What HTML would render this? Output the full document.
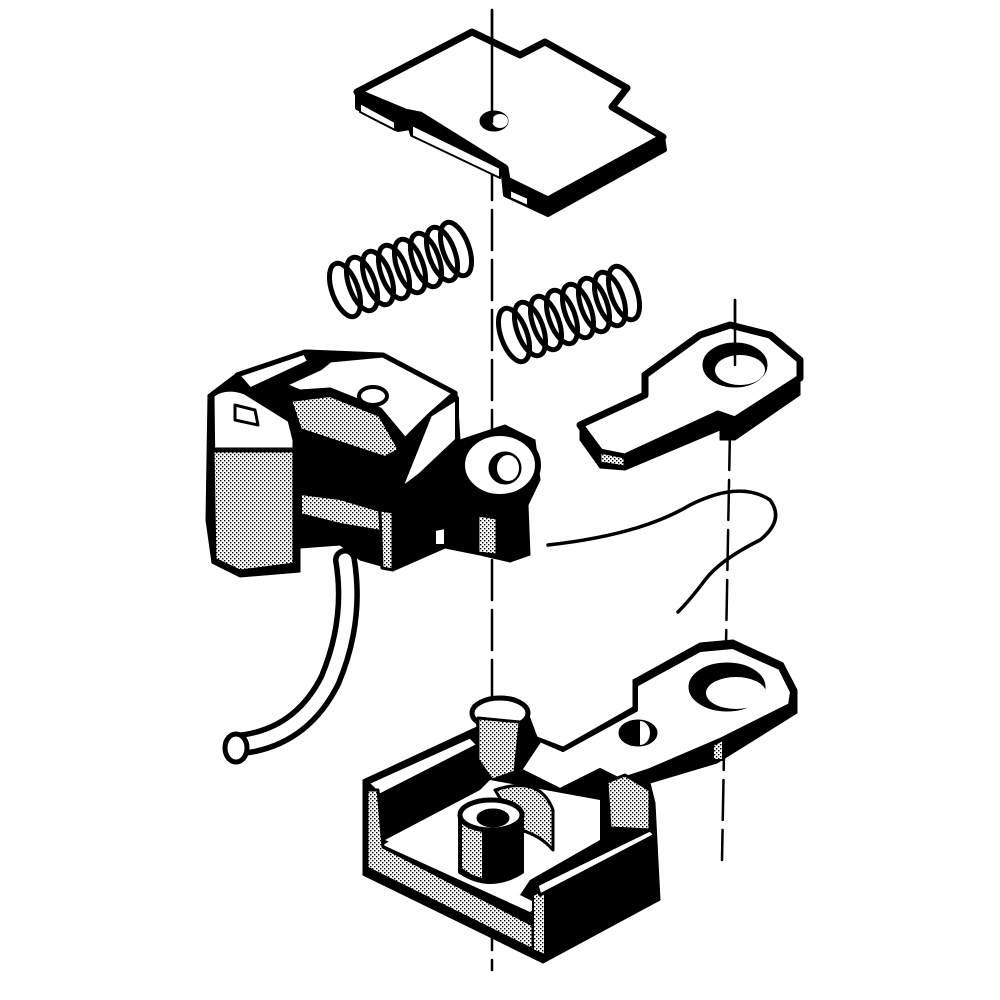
<!DOCTYPE html>
<html><head><meta charset="utf-8"><style>html,body{margin:0;padding:0;background:#fff}svg{display:block}</style></head>
<body>
<svg width="1000" height="1000" viewBox="0 0 1000 1000" xmlns="http://www.w3.org/2000/svg">
<defs>
<pattern id="st" width="4" height="4" patternUnits="userSpaceOnUse"><rect width="4" height="4" fill="#fff"/><rect x="0" y="0" width="1.4" height="1.4" fill="#000"/><rect x="2" y="2" width="1.4" height="1.4" fill="#000"/></pattern>
</defs>
<g stroke="#000" stroke-linejoin="round" stroke-linecap="round">
<!-- center lines -->
<line x1="492" y1="10" x2="492" y2="970" stroke-width="2.5" stroke-dasharray="40 10"/>
<line x1="735" y1="300" x2="735" y2="330" stroke-width="2.5"/>
<line x1="730" y1="430" x2="722" y2="860" stroke-width="2.5" stroke-dasharray="40 10"/>

<!-- top plate -->
<polygon points="357,92 357,108 398,130 410,128 412,135 503,175 505,195 548,215 665,150 663,137 548,200 507,180 503,160 420,115 405,112" fill="#000" stroke-width="4"/>
<polygon points="360,103 395,122 395,130 360,112" fill="#fff" stroke-width="2"/>
<polygon points="412,125 500,168 500,178 412,136" fill="#fff" stroke-width="2"/>
<polygon points="510,190 528,198 528,206 510,198" fill="#fff" stroke-width="2"/>
<polygon points="357,92 472,32 520,55 545,42 627,88 612,107 663,137 548,200 507,180 505,168 420,115 405,112" fill="#fff" stroke-width="7"/>
<ellipse cx="494" cy="121" rx="14" ry="10" fill="#000"/>
<ellipse cx="500" cy="121" rx="8" ry="7" fill="#fff" stroke="none"/>
<line x1="492" y1="10" x2="492" y2="122" stroke-width="2.5"/>

<!-- springs -->
<g fill="none" stroke-width="5">
<ellipse cx="345" cy="290" rx="13" ry="28" transform="rotate(-20 345 290)"/>
<ellipse cx="362" cy="284" rx="13" ry="28" transform="rotate(-20 362 284)"/>
<ellipse cx="378" cy="278" rx="13" ry="28" transform="rotate(-20 378 278)"/>
<ellipse cx="394" cy="272" rx="13" ry="28" transform="rotate(-20 394 272)"/>
<ellipse cx="410" cy="266" rx="13" ry="28" transform="rotate(-20 410 266)"/>
<ellipse cx="426" cy="260" rx="13" ry="28" transform="rotate(-20 426 260)"/>
<ellipse cx="442" cy="254" rx="13" ry="28" transform="rotate(-20 442 254)"/>
<ellipse cx="456" cy="249" rx="13" ry="28" transform="rotate(-20 456 249)"/>
<ellipse cx="514" cy="335" rx="13" ry="28" transform="rotate(-20 514 335)"/>
<ellipse cx="530" cy="329" rx="13" ry="28" transform="rotate(-20 530 329)"/>
<ellipse cx="546" cy="323" rx="13" ry="28" transform="rotate(-20 546 323)"/>
<ellipse cx="562" cy="317" rx="13" ry="28" transform="rotate(-20 562 317)"/>
<ellipse cx="578" cy="311" rx="13" ry="28" transform="rotate(-20 578 311)"/>
<ellipse cx="594" cy="305" rx="13" ry="28" transform="rotate(-20 594 305)"/>
<ellipse cx="610" cy="299" rx="13" ry="28" transform="rotate(-20 610 299)"/>
<ellipse cx="624" cy="293" rx="13" ry="28" transform="rotate(-20 624 293)"/>
</g>

<!-- small arm -->
<polygon points="580,425 580,440 600,468 625,470 720,430 720,440 735,440 800,395 800,375 735,420 720,415 625,455 600,452" fill="#000"/>
<polygon points="580,425 645,395 645,375 700,335 730,325 770,335 800,360 800,378 735,420 718,414 625,457 600,452" fill="#fff" stroke-width="7"/>
<polygon points="600,452 625,457 625,467 600,463" fill="url(#st)" stroke-width="3"/>
<ellipse cx="735" cy="365" rx="32" ry="22" fill="#000"/>
<ellipse cx="740" cy="370" rx="25" ry="15" fill="#fff" stroke="none"/>
<line x1="735" y1="300" x2="735" y2="365" stroke-width="2.5"/>

<!-- coupler head -->
<polygon points="208,395 237,373 307,350 383,353 457,393 460,440 505,425 535,440 540,480 528,505 530,555 510,562 480,555 445,548 395,570 360,560 340,545 300,548 300,572 240,577 212,563 206,520" fill="#000"/>
<path d="M212,395 Q225,385 245,392 L290,420 L295,440 L295,565 L240,572 L214,560 Z" fill="#fff" stroke-width="5"/>
<polygon points="212,450 295,450 295,565 240,572 214,560" fill="url(#st)" stroke-width="5"/>
<polygon points="237,375 305,352 310,362 250,390" fill="#fff" stroke-width="5"/>
<polygon points="283,385 320,368 330,360 383,355 455,393 430,415 405,440 380,410 330,390 300,392" fill="#fff" stroke-width="5"/>
<polygon points="290,400 330,395 380,415 400,450 385,458 300,430" fill="url(#st)" stroke-width="4"/>
<polygon points="235,405 255,410 258,425 235,420" fill="#fff" stroke-width="3"/>
<polygon points="300,493 340,498 380,510 382,532 340,525 300,515" fill="url(#st)" stroke-width="4"/>
<polygon points="380,510 393,512 393,570 382,568" fill="url(#st)" stroke-width="3"/>
<ellipse cx="373" cy="396" rx="14" ry="9" fill="#fff" stroke-width="4"/>
<polygon points="430,415 457,398 457,440 420,475 400,490" fill="#fff" stroke-width="4"/>
<ellipse cx="500" cy="465" rx="38" ry="32" fill="#fff" stroke-width="6"/>
<ellipse cx="505" cy="468" rx="16" ry="16" fill="#000"/>
<ellipse cx="508" cy="468" rx="11" ry="13" fill="#fff" stroke="none"/>
<polygon points="478,515 497,518 497,555 478,553" fill="url(#st)" stroke-width="3"/>
<polygon points="435,530 445,528 445,545 435,545" fill="#fff" stroke-width="2"/>

<!-- pin -->
<path d="M345,560 Q355,620 330,680 Q300,740 235,745" fill="none" stroke-width="24"/>
<path d="M345,560 Q355,620 330,680 Q300,740 235,745" fill="none" stroke="#fff" stroke-width="13"/>
<ellipse cx="236" cy="748" rx="11" ry="14" fill="#fff" stroke-width="5"/>

<!-- wire spring -->
<path d="M548,545 Q640,535 690,505 Q740,480 770,500 Q785,520 760,540 Q720,560 705,580 Q690,600 678,612" fill="none" stroke-width="3.5"/>

<!-- bottom box -->
<polygon points="363,780 477,727 473,705 490,697 525,705 537,737 563,747 633,707 633,680 700,643 733,640 783,663 797,690 797,713 717,763 650,783 655,803 660,900 543,963 363,875" fill="#000"/>
<!-- arm top -->
<polygon points="540,740 563,750 636,710 636,685 700,650 733,647 780,668 792,692 790,705 720,740 650,770 620,780 600,770 560,790 520,770" fill="#fff" stroke-width="4"/>
<ellipse cx="727" cy="687" rx="38" ry="24" fill="#000"/>
<ellipse cx="736" cy="693" rx="30" ry="16" fill="#fff" stroke="none"/>
<ellipse cx="638" cy="733" rx="19" ry="13" fill="#000"/>
<path d="M640,721 A10,12 0 0 1 640,745 Z" fill="#fff" stroke="none"/>
<polygon points="713,745 723,740 723,760 713,760" fill="url(#st)" stroke-width="2"/>
<!-- posts -->
<ellipse cx="500" cy="713" rx="28" ry="15" fill="#fff" stroke-width="5"/>
<polygon points="478,718 520,722 515,772 492,780 478,760" fill="url(#st)" stroke-width="3"/>
<!-- rear wall top rim and inner black -->
<polygon points="368,783 470,737 478,745 380,795" fill="#fff" stroke-width="3"/>
<!-- floor -->
<polygon points="385,840 480,790 490,780 600,800 600,840 530,880 520,895" fill="#fff" stroke="none"/>
<polygon points="383,845 400,835 540,905 530,912" fill="#fff" stroke="none"/>
<!-- left & front stipple walls -->
<polygon points="367,790 378,790 383,847 533,925 533,950 367,868" fill="url(#st)" stroke-width="3"/>
<polygon points="533,895 545,890 545,955 533,950" fill="url(#st)" stroke-width="2"/>
<!-- right wall top rim -->
<polygon points="537,885 650,830 655,835 540,895" fill="#fff" stroke-width="3"/>
<!-- crescent -->
<path d="M495,790 Q540,775 553,810 L553,850 Q540,835 520,830 Z" fill="url(#st)" stroke-width="3"/>
<!-- right block -->
<polygon points="607,782 625,775 650,790 650,830 610,828" fill="url(#st)" stroke-width="3"/>
<!-- cylinder -->
<path d="M460,812 L460,872 Q490,892 522,872 L522,812" fill="#000" stroke-width="4"/>
<path d="M462,815 L462,868 Q470,875 482,878 L482,822 Z" fill="url(#st)" stroke="none"/>
<ellipse cx="491" cy="815" rx="31" ry="15" fill="#fff" stroke-width="5"/>
<ellipse cx="493" cy="818" rx="16" ry="9" fill="#000"/>
</g>
</svg>
</body></html>
